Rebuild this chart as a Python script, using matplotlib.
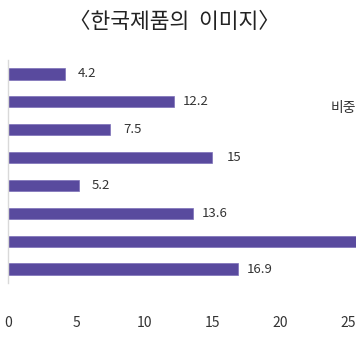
import matplotlib
matplotlib.use("Agg")
import matplotlib.pyplot as plt
from matplotlib.patches import Patch

plt.rcParams['font.family'] = ['Noto Sans CJK KR', 'DejaVu Sans']

# Data
categories = ["항목1", "항목2", "항목3", "항목4", "항목5", "항목6", "항목7", "항목8"]
values = [4.2, 12.2, 7.5, 15, 5.2, 13.6, 26.3, 16.9]
value_labels = ["4.2", "12.2", "7.5", "15", "5.2", "13.6", "26.3", "16.9"]
xticks = [0, 5, 10, 15, 20, 25]
title = "〈한국제품의  이미지〉"
series_name = "비중"

bar_color = "#594a9e"

fig = plt.figure(figsize=(3.56, 3.40), dpi=100)
# axes extend past the right edge of the canvas
ax = fig.add_axes([8 / 356, 57 / 340, 408 / 356, 223 / 340])

y = list(range(len(categories)))
ax.barh(y, values, height=0.4, color=bar_color, edgecolor="#7c70b8", linewidth=0.5)
ax.set_ylim(len(categories) - 0.5, -0.5)
ax.set_xlim(0, 30)
ax.set_xticks(xticks)
ax.set_xticklabels([str(t) for t in xticks], fontsize=10, color="#333333")
ax.set_yticks([])
ax.tick_params(axis='x', length=0, pad=24)

for s in ["top", "right", "bottom"]:
    ax.spines[s].set_visible(False)
ax.spines["left"].set_color("#d9d9d9")
ax.spines["left"].set_linewidth(1)

# value labels; the ones that would fall past the canvas edge are skipped
visible_max = (356 - 8) / 408 * 30
for yi, v, lab in zip(y, values, value_labels):
    if v > visible_max - 2:
        continue
    ax.annotate(lab, (v, yi), xytext=(16, 0), textcoords="offset points",
                ha="center", va="center", fontsize=9.5, color="#333333")

fig.text(174 / 356, 1 - 22 / 340, title, ha="center", va="center",
         fontsize=15.5, color="#222222")

fig.legend(handles=[Patch(color=bar_color)], labels=[series_name],
           loc="center left", bbox_to_anchor=(331 / 356, 1 - 108 / 340),
           frameon=False, markerfirst=False, borderpad=0, borderaxespad=0,
           handletextpad=0.6, fontsize=10, labelcolor="#333333")

fig.savefig("out.png", dpi=100)
